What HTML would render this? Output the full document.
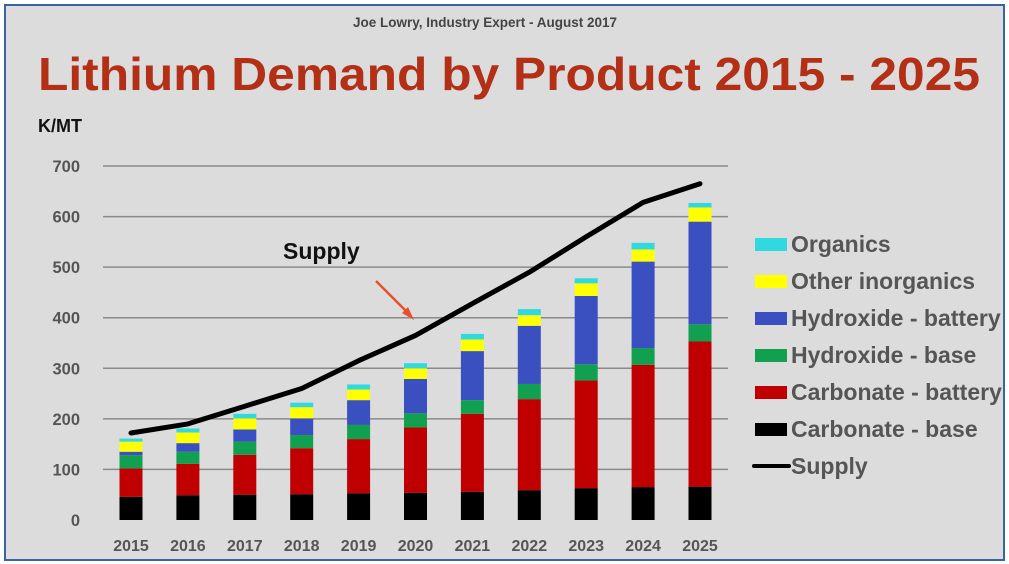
<!DOCTYPE html>
<html><head><meta charset="utf-8"><style>
html,body{margin:0;padding:0;background:#fff;}
body{width:1009px;height:564px;overflow:hidden;position:relative;font-family:"Liberation Sans",sans-serif;}
#frame{position:absolute;left:4px;top:4px;width:997px;height:553px;border:2px solid #3a62a8;background:#dcdcdc;overflow:hidden;}
</style></head><body>
<div id="frame">
<svg id="chart" width="997" height="553" viewBox="6 6 997 553" xmlns="http://www.w3.org/2000/svg">
<text x="485" y="27" text-anchor="middle" font-size="13.5" font-weight="bold" fill="#444">Joe Lowry, Industry Expert - August 2017</text>
<text x="38" y="90" font-size="46.5" font-weight="bold" fill="#b32f16" textLength="942" lengthAdjust="spacingAndGlyphs">Lithium Demand by Product 2015 - 2025</text>
<text x="38" y="132" font-size="18" font-weight="bold" fill="#111">K/MT</text>
<g id="grid"></g><g id="bars"></g><g id="line"></g><g id="xt"></g>
<text x="283" y="259" font-size="23" font-weight="bold" fill="#111">Supply</text>
<g>
<line x1="376" y1="281" x2="409" y2="314" stroke="#e8502a" stroke-width="2.5"/>
<polygon points="414,320 402,313 408,307" fill="#e8502a"/>
</g>
<g id="legend"></g>
</svg>
</div>
<script>
const years=['2015','2016','2017','2018','2019','2020','2021','2022','2023','2024','2025'];
const carbBase=[46,49,50,51,53,54,56,59,63,65,66];
const carbBatt=[56,62,79,91,107,129,154,180,213,242,287];
const hydBase=[26,24,26,26,28,28,27,30,32,33,34];
const hydBatt=[7,17,24,33,49,68,97,115,135,171,203];
const otherInorg=[20,21,22,22,21,21,23,21,25,24,28];
const organics=[6,8,9,9,10,10,11,12,10,13,9];
const supply=[172,190,225,260,315,365,428,490,560,628,665];
const yTicks=[0,100,200,300,400,500,600,700];
const seriesNames=['Carbonate - base','Carbonate - battery','Hydroxide - base','Hydroxide - battery','Other inorganics','Organics'];
const seriesColors=['#000000','#c00000','#10a050','#3a4fc0','#ffff00','#30d8e0'];
const NS='http://www.w3.org/2000/svg';
const y=v=>520-v*0.5057;
const x=i=>131+i*56.9;
function mk(t,a,p){const e=document.createElementNS(NS,t);for(const k in a)e.setAttribute(k,a[k]);p.appendChild(e);return e;}
const grid=document.getElementById('grid');
yTicks.forEach(v=>{
 if(v>0){const l=mk('line',{x1:103,x2:728,y1:y(v),y2:y(v),stroke:'#8a8a8a','stroke-width':1.5},grid);
 
 }
 const t=mk('text',{x:80,y:y(v)+6,'text-anchor':'end','font-size':16.5,'font-weight':'bold',fill:'#555'},grid);
 t.textContent=v;
 
 
});
const series=[carbBase,carbBatt,hydBase,hydBatt,otherInorg,organics];
const bars=document.getElementById('bars');
years.forEach((yr,i)=>{
 let acc=0;
 series.forEach((s,k)=>{
  const r=mk('rect',{x:x(i)-11.5,width:23,y:y(acc+s[i]),height:y(acc)-y(acc+s[i]),fill:seriesColors[k]},bars);
  
  
  acc+=s[i];
 });
 const t=mk('text',{x:x(i),y:551,'text-anchor':'middle','font-size':16,'font-weight':'bold',fill:'#555'},document.getElementById('xt'));
 t.textContent=yr;
 
 
});
const pl=mk('polyline',{points:supply.map((v,i)=>x(i)+','+y(v)).join(' '),fill:'none',stroke:'#000','stroke-width':5,'stroke-linejoin':'round','stroke-linecap':'round'},document.getElementById('line'));


const lg=document.getElementById('legend');
const legNames=['Organics','Other inorganics','Hydroxide - battery','Hydroxide - base','Carbonate - battery','Carbonate - base','Supply'];
const legColors=['#30d8e0','#ffff00','#3a4fc0','#10a050','#c00000','#000000','#000000'];
legNames.forEach((n,i)=>{
 const cy=244+i*37;
 const g=mk('g',{},lg);
 
 
 if(i<6)mk('rect',{x:755,y:cy-6,width:32,height:13,fill:legColors[i]},g);
 else mk('line',{x1:754,x2:789,y1:cy,y2:cy,stroke:'#000','stroke-width':4,'stroke-linecap':'round'},g);
 const t=mk('text',{x:791,y:cy+8,'font-size':23,'font-weight':'bold',fill:'#555'},g);
 t.textContent=n;
});
</script>
</body></html>
